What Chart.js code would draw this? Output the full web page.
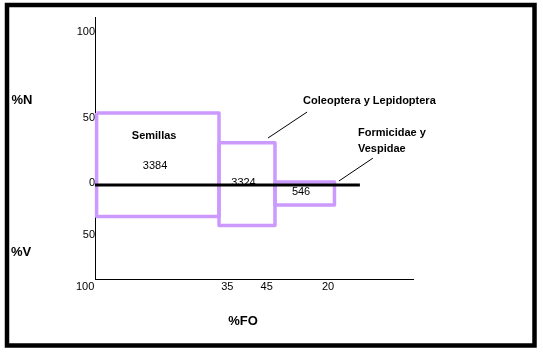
<!DOCTYPE html>
<html>
<head>
<meta charset="utf-8">
<script src="https://cdn.jsdelivr.net/npm/chart.js@4"></script>
<style>
  html, body { margin: 0; padding: 0; background: #fff; }
  canvas { display: block; }
</style>
</head>
<body>
<canvas id="chart" width="543" height="352"></canvas>
<script>
// presas (diagrama de Costello)
const categories = ["Semillas", "Coleoptera y Lepidoptera", "Formicidae y Vespidae"];
const counts = ["3384", "3324", "546"];
const foStart = [0.5, 39.0, 56.6];
const foEnd = [39.0, 56.6, 75.3];
const pctN = [53.7, 31.6, 2.2];
const pctV = [-23.5, -30.2, -14.9];
const zeroLineEnd = 83.3;

const xTickPos = [-3.1, 41.6, 54.0, 73.3];
const xTickLabels = ["100", "35", "45", "20"];
const yTickPos = [114.2, 50, 1.5, -37.3];
const yTickLabels = ["100", "50", "0", "50"];

const FONT = "'Liberation Sans', Arial, sans-serif";
const PURPLE = "#cc99ff";

const rectDatasets = categories.map((name, i) => ({
  label: name,
  data: [
    { x: foStart[i], y: pctN[i] },
    { x: foEnd[i], y: pctN[i] },
    { x: foEnd[i], y: pctV[i] },
    { x: foStart[i], y: pctV[i] },
    { x: foStart[i], y: pctN[i] },
  ],
  showLine: true,
  borderColor: PURPLE,
  borderWidth: 3.5,
  borderJoinStyle: "round",
  pointRadius: 0,
  fill: false,
  clip: false,
  order: 1,
}));

// text placed in chart units
const notes = [
  { text: categories[0], x: 18.6, y: 36.6, bold: true, align: "center" },
  { text: counts[0], x: 18.9, y: 14.2, align: "center" },
  { text: counts[1], x: 46.7, y: 1.5, align: "center" },
  { text: counts[2], x: 64.8, y: -5.2, align: "center" },
  { text: "Coleoptera y Lepidoptera", x: 86.3, y: 62.7, bold: true, align: "center" },
  { text: "Formicidae y", x: 82.7, y: 38.8, bold: true, align: "left" },
  { text: "Vespidae", x: 82.7, y: 26.9, bold: true, align: "left" },
];
const leaders = [
  [66.7, 54.5, 54.4, 35.1],
  [87.4, 20.1, 76.7, 3.0],
];

const drawingPlugin = {
  id: "drawing",
  beforeDraw(chart) {
    const ctx = chart.ctx;
    ctx.save();
    ctx.fillStyle = "#fff";
    ctx.fillRect(0, 0, chart.width, chart.height);
    ctx.strokeStyle = "#000";
    ctx.lineWidth = 4.5;
    ctx.strokeRect(7, 5, 527.5, 340.5);
    ctx.restore();
  },
  beforeDatasetsDraw(chart) {
    const ctx = chart.ctx;
    const xs = chart.scales.x;
    const ys = chart.scales.y;
    ctx.save();
    ctx.fillStyle = "#000";
    ctx.textBaseline = "middle";
    notes.forEach((n) => {
      ctx.font = (n.bold ? "bold " : "") + "11px " + FONT;
      ctx.textAlign = n.align;
      ctx.fillText(n.text, xs.getPixelForValue(n.x), ys.getPixelForValue(n.y));
    });
    ctx.strokeStyle = "#000";
    ctx.lineWidth = 1;
    leaders.forEach((l) => {
      ctx.beginPath();
      ctx.moveTo(xs.getPixelForValue(l[0]), ys.getPixelForValue(l[1]));
      ctx.lineTo(xs.getPixelForValue(l[2]), ys.getPixelForValue(l[3]));
      ctx.stroke();
    });
    // axis titles
    ctx.font = "bold 13px " + FONT;
    ctx.textAlign = "center";
    ctx.fillText("%N", 22, 100);
    ctx.fillText("%V", 21, 252);
    ctx.fillText("%FO", 243, 321);
    ctx.restore();
  },
};

new Chart(document.getElementById("chart"), {
  type: "scatter",
  data: {
    datasets: [
      ...rectDatasets,
      {
        label: "0",
        data: [
          { x: 0, y: 0 },
          { x: zeroLineEnd, y: 0 },
        ],
        showLine: true,
        borderColor: "#000",
        borderWidth: 3,
        pointRadius: 0,
        fill: false,
        clip: false,
        order: 0,
      },
    ],
  },
  options: {
    responsive: false,
    animation: false,
    layout: { padding: { left: 0, top: 17, right: 130, bottom: 0 } },
    plugins: {
      legend: { display: false },
      tooltip: { enabled: false },
    },
    scales: {
      x: {
        type: "linear",
        min: 0,
        max: 100,
        grid: { display: false, drawTicks: false },
        border: { display: true, color: "#000", width: 1 },
        afterBuildTicks: (scale) => {
          scale.ticks = xTickPos.map((v) => ({ value: v }));
        },
        afterFit: (scale) => {
          scale.height = 73;
        },
        ticks: {
          autoSkip: false,
          maxRotation: 0,
          padding: 1,
          color: "#000",
          font: { family: FONT, size: 11 },
          callback: (value, index) => xTickLabels[index],
        },
      },
      y: {
        type: "linear",
        min: -70.1,
        max: 125.4,
        grid: { display: false, drawTicks: false },
        border: { display: true, color: "#000", width: 1 },
        afterBuildTicks: (scale) => {
          scale.ticks = yTickPos.map((v) => ({ value: v }));
        },
        afterFit: (scale) => {
          scale.width = 95;
        },
        ticks: {
          autoSkip: false,
          padding: 0,
          color: "#000",
          font: { family: FONT, size: 11 },
          callback: (value, index) => yTickLabels[index],
        },
      },
    },
  },
  plugins: [drawingPlugin],
});
</script>
</body>
</html>
